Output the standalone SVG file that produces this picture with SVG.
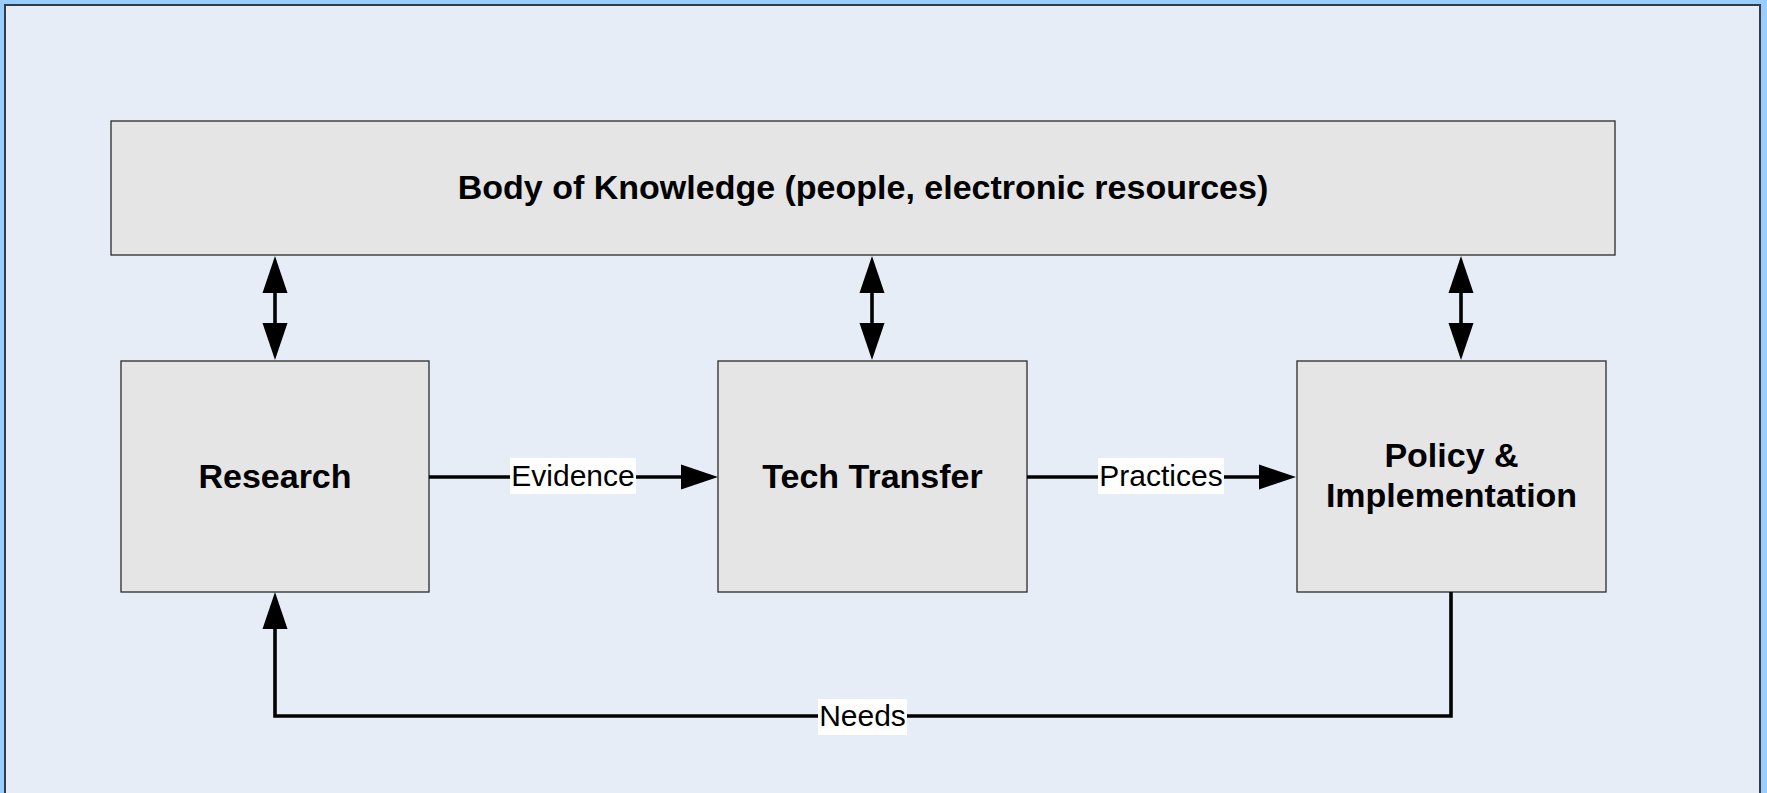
<svg xmlns="http://www.w3.org/2000/svg" width="1767" height="793" viewBox="0 0 1767 793">
<style>
.box{fill:#e5e5e5;stroke:#2b2b2b;stroke-width:1.3}
.t{font-family:"Liberation Sans",Arial,sans-serif;font-weight:bold;font-size:34px;fill:#000;text-anchor:middle}
.l{font-family:"Liberation Sans",Arial,sans-serif;font-size:30px;fill:#000;text-anchor:middle}
.c{fill:none;stroke:#000;stroke-width:3.6}
.lb{fill:#fff}
</style>
<defs>
<marker id="ah" markerUnits="userSpaceOnUse" markerWidth="38" markerHeight="26" refX="0" refY="12.5" orient="auto-start-reverse" overflow="visible">
<path d="M0,0 L37,12.5 L0,25 z" fill="#000"/>
</marker>
</defs>
<rect x="0" y="0" width="1767" height="793" fill="#99ccff"/>
<rect x="5" y="5" width="1755" height="800" fill="#e6edf7" stroke="#333b45" stroke-width="2"/>
<g id="body-of-knowledge">
<rect class="box" x="111" y="121" width="1504" height="134"/>
<text class="t" x="863" y="199">Body of Knowledge (people, electronic resources)</text>
</g>
<g id="research">
<rect class="box" x="121" y="361" width="308" height="231"/>
<text class="t" x="275" y="488">Research</text>
</g>
<g id="tech-transfer">
<rect class="box" x="718" y="361" width="309" height="231"/>
<text class="t" x="872.5" y="488">Tech Transfer</text>
</g>
<g id="policy">
<rect class="box" x="1297" y="361" width="309" height="231"/>
<text class="t" x="1451.5" y="467">Policy &amp;</text>
<text class="t" x="1451.5" y="507">Implementation</text>
</g>
<g id="connectors">
<line class="c" x1="275" y1="293" x2="275" y2="323" marker-start="url(#ah)" marker-end="url(#ah)"/>
<line class="c" x1="872" y1="293" x2="872" y2="323" marker-start="url(#ah)" marker-end="url(#ah)"/>
<line class="c" x1="1461" y1="293" x2="1461" y2="323" marker-start="url(#ah)" marker-end="url(#ah)"/>
<line class="c" x1="429" y1="477" x2="681" y2="477" marker-end="url(#ah)"/>
<rect class="lb" x="510" y="458" width="126" height="36"/>
<text class="l" x="573" y="486">Evidence</text>
<line class="c" x1="1027" y1="477" x2="1259" y2="477" marker-end="url(#ah)"/>
<rect class="lb" x="1098" y="458" width="126" height="36"/>
<text class="l" x="1161" y="486">Practices</text>
<path class="c" d="M1451,592 V716 H275 V629" marker-end="url(#ah)"/>
<rect class="lb" x="818" y="699" width="89" height="36"/>
<text class="l" x="862.5" y="726">Needs</text>
</g>
</svg>
